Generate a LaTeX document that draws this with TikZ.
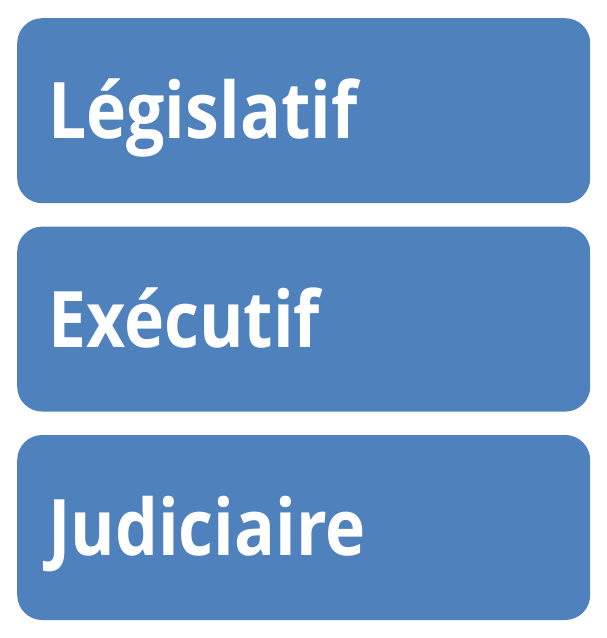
\documentclass[tikz,border=0pt]{standalone}
\usepackage{fontspec}
\setmainfont{Open Sans}[FakeStretch=0.87]
\usetikzlibrary{positioning}
\definecolor{boxblue}{HTML}{4F81BD}

\begin{document}
\begin{tikzpicture}[x=1pt,y=-1pt,
		power/.style={fill=boxblue,draw=none,rounded corners=25pt,
			minimum width=573pt,minimum height=185pt,text width=511pt,
			inner xsep=31pt,align=left,text=white,
			font=\fontsize{78}{78}\selectfont\bfseries,
			text height=56pt,text depth=0pt}]
	\useasboundingbox (0,0) rectangle (607,638);
	\node[power,anchor=north west] (leg) at (17,18) {Législatif};
	\node[power,below=23pt of leg] (exe) {Exécutif};
	\node[power,below=23pt of exe] (jud) {Judiciaire};
\end{tikzpicture}
\end{document}
